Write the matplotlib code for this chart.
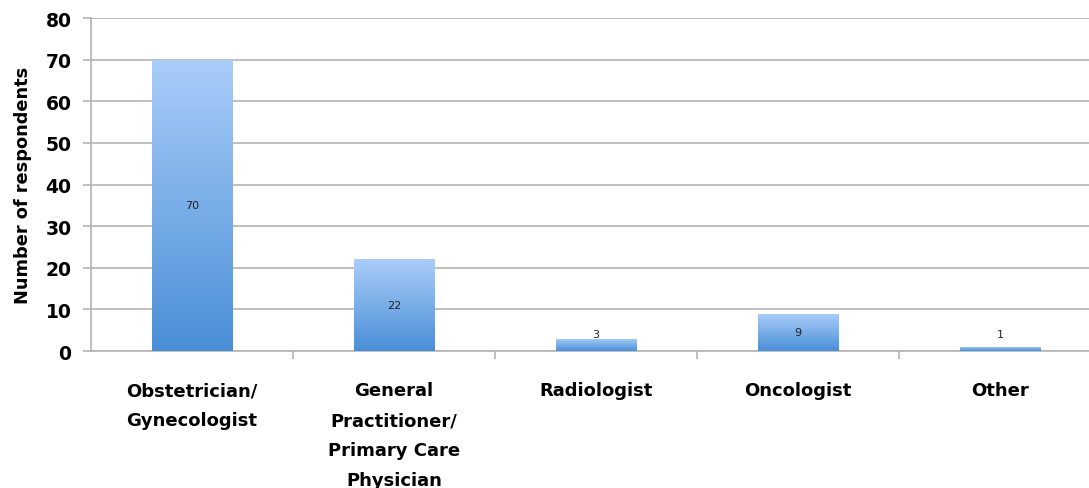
import matplotlib
matplotlib.use("Agg")
import matplotlib.pyplot as plt
import numpy as np
from matplotlib.colors import LinearSegmentedColormap
from matplotlib.patches import Rectangle

# Data
categorias = [
    "Obstetrician/\nGynecologist",
    "General\nPractitioner/\nPrimary Care\nPhysician",
    "Radiologist",
    "Oncologist",
    "Other",
]
respondentes = [70, 22, 3, 9, 1]
y_ticks = [0, 10, 20, 30, 40, 50, 60, 70, 80]

COR_CLARA = "#aacdf9"
COR_ESCURA = "#4a8fd7"
COR_GRADE = "#b4b4b4"

fig = plt.figure(figsize=(10.89, 4.89), dpi=100)
ax = fig.add_axes([91 / 1089, (489 - 352) / 489, 1 - 91 / 1089, (352 - 19) / 489])

largura = 0.4
posicoes = np.arange(len(categorias))
barras = ax.bar(posicoes, respondentes, width=largura, color="none", zorder=3)

# gradiente vertical dentro de cada barra
mapa = LinearSegmentedColormap.from_list("azul", [COR_ESCURA, COR_CLARA])
gradiente = np.linspace(0, 1, 256).reshape(-1, 1)
for barra in barras:
    x0, y0 = barra.get_x(), barra.get_y()
    w, h = barra.get_width(), barra.get_height()
    img = ax.imshow(gradiente, cmap=mapa, origin="lower", aspect="auto",
                    extent=[x0, x0 + w, y0, y0 + h], zorder=3)
    clip = Rectangle((x0, y0), w, h, transform=ax.transData)
    img.set_clip_path(clip)

for x, v in zip(posicoes, respondentes):
    ax.text(x, max(v / 2, 4), str(v), ha="center", va="center",
            fontsize=8, color="#222222", zorder=4)

ax.set_xlim(-0.5, 4.5 - 12 / 202)
ax.set_ylim(0, 80)
ax.set_yticks(y_ticks)
ax.set_yticklabels([str(t) for t in y_ticks], fontsize=13.5, fontweight="bold")
ax.yaxis.grid(True, color=COR_GRADE, linewidth=1.2, zorder=0)
ax.set_axisbelow(True)

# marcas do eixo x nas divisas entre categorias
ax.set_xticks(posicoes[:-1] + 0.5)
ax.set_xticklabels([])
ax.tick_params(axis="x", direction="out", length=6, color=COR_GRADE, width=1.2)
ax.tick_params(axis="y", direction="out", length=6, color=COR_GRADE, width=1.2, pad=8)

for x, nome in zip(posicoes, categorias):
    ax.text(x, -7.3, nome, ha="center", va="top", fontsize=13,
            fontweight="bold", linespacing=1.85, transform=ax.transData,
            clip_on=False)

for lado in ["top", "right"]:
    ax.spines[lado].set_visible(False)
for lado in ["left", "bottom"]:
    ax.spines[lado].set_color(COR_GRADE)
    ax.spines[lado].set_linewidth(1.2)

ax.set_ylabel("Number of respondents", fontsize=12.8, fontweight="bold", labelpad=10)

fig.savefig("out.png", dpi=100)
